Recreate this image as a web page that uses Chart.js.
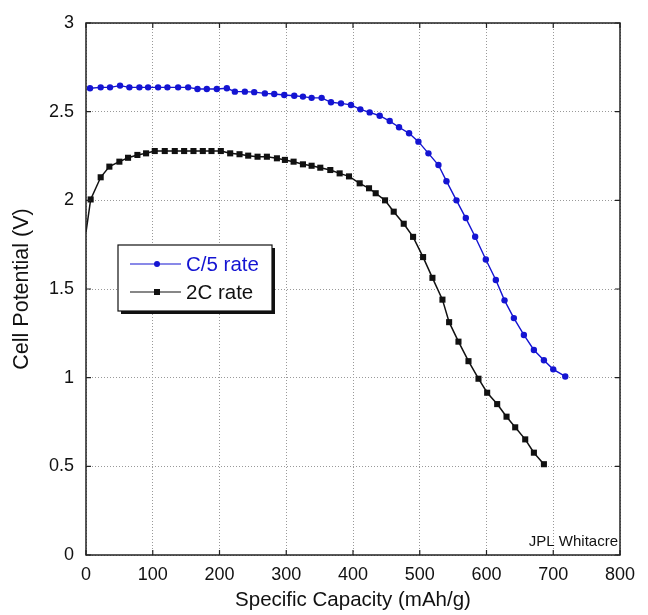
<!DOCTYPE html>
<html>
<head>
<meta charset="utf-8">
<script src="https://cdn.jsdelivr.net/npm/chart.js@4.4.0/dist/chart.umd.min.js"></script>
<style>
html,body{margin:0;padding:0;background:#fff;}
#wrap{width:648px;height:615px;position:relative;}
</style>
</head>
<body>
<div id="wrap"><canvas id="c" width="648" height="615"></canvas></div>
<script>
// Specific capacity (mAh/g) and cell potential (V)
const c5Capacity = [6,22,36,51,65,80,93,108,122,138,153,167,181,196,211,223,238,252,268,282,297,312,325,338,353,367,382,397,411,425,440,455,469,484,498,513,528,540,555,569,583,599,614,627,641,656,671,686,700,718];
const c5Voltage  = [2.632,2.637,2.637,2.647,2.637,2.637,2.637,2.637,2.637,2.637,2.637,2.628,2.628,2.628,2.632,2.613,2.613,2.61,2.603,2.60,2.594,2.59,2.585,2.578,2.578,2.553,2.547,2.538,2.513,2.496,2.477,2.447,2.412,2.378,2.331,2.265,2.199,2.108,2.0,1.9,1.795,1.666,1.551,1.436,1.336,1.241,1.156,1.098,1.047,1.007];
const c2Capacity = [0,7,22,35,50,63,77,90,103,118,133,147,161,175,188,202,216,230,243,257,271,286,298,311,325,338,351,366,380,394,410,424,434,448,461,476,490,505,519,534,544,558,573,588,601,616,630,643,658,671,686];
const c2Voltage  = [1.82,2.005,2.13,2.19,2.218,2.24,2.256,2.265,2.278,2.278,2.278,2.278,2.278,2.278,2.278,2.278,2.265,2.26,2.252,2.246,2.246,2.237,2.228,2.218,2.203,2.195,2.184,2.171,2.152,2.135,2.096,2.068,2.04,2.0,1.936,1.868,1.794,1.68,1.563,1.44,1.313,1.203,1.093,0.994,0.915,0.851,0.78,0.72,0.652,0.577,0.512];
const seriesLabels = ["C/5 rate","2C rate"];
const xTicks = [0,100,200,300,400,500,600,700,800];
const yTicks = [0,0.5,1,1.5,2,2.5,3];
const xTitle = "Specific Capacity (mAh/g)";
const yTitle = "Cell Potential (V)";
const credit = "JPL Whitacre";

const BLUE = "#1414d2";
const FONT = "'Liberation Sans', Arial, Helvetica, sans-serif";

const toPts = (xs, ys) => xs.map((x, i) => ({x: x, y: ys[i]}));

const framePlugin = {
  id: 'frame',
  afterDatasetsDraw(chart) {
    const {ctx, chartArea: a, scales: {x, y}} = chart;
    ctx.save();
    ctx.strokeStyle = '#222';
    ctx.lineWidth = 1.5;
    ctx.strokeRect(a.left, a.top, a.right - a.left, a.bottom - a.top);
    ctx.lineWidth = 1.2;
    const tl = 5;
    ctx.beginPath();
    xTicks.forEach(v => {
      const px = x.getPixelForValue(v);
      ctx.moveTo(px, a.bottom); ctx.lineTo(px, a.bottom - tl);
      ctx.moveTo(px, a.top); ctx.lineTo(px, a.top + tl);
    });
    yTicks.forEach(v => {
      const py = y.getPixelForValue(v);
      ctx.moveTo(a.left, py); ctx.lineTo(a.left + tl, py);
      ctx.moveTo(a.right, py); ctx.lineTo(a.right - tl, py);
    });
    ctx.stroke();

    // credit text
    ctx.font = "15px " + FONT;
    ctx.fillStyle = '#111';
    ctx.textAlign = 'right';
    ctx.textBaseline = 'middle';
    ctx.fillText(credit, a.right - 2, a.bottom - 13);

    // legend box
    const lx = 118, ly = 245, lw = 154, lh = 66;
    ctx.fillStyle = '#111';
    ctx.fillRect(lx + 3, ly + 3, lw, lh);
    ctx.fillStyle = '#fff';
    ctx.fillRect(lx, ly, lw, lh);
    ctx.strokeStyle = '#111';
    ctx.lineWidth = 1.2;
    ctx.strokeRect(lx, ly, lw, lh);
    const items = [
      {label: seriesLabels[0], color: BLUE, text: BLUE, style: 'circle', yy: ly + 19},
      {label: seriesLabels[1], color: '#111', text: '#111', style: 'rect', yy: ly + 47}
    ];
    items.forEach(it => {
      ctx.strokeStyle = it.color;
      ctx.lineWidth = 1.2;
      ctx.beginPath();
      ctx.moveTo(lx + 12, it.yy); ctx.lineTo(lx + 63, it.yy);
      ctx.stroke();
      ctx.fillStyle = it.color;
      if (it.style === 'circle') {
        ctx.beginPath(); ctx.arc(lx + 39, it.yy, 3, 0, Math.PI * 2); ctx.fill();
      } else {
        ctx.fillRect(lx + 36, it.yy - 3, 6, 6);
      }
      ctx.font = "20.5px " + FONT;
      ctx.fillStyle = it.text;
      ctx.textAlign = 'left';
      ctx.textBaseline = 'middle';
      ctx.fillText(it.label, lx + 68, it.yy + 1);
    });
    ctx.restore();
  }
};

new Chart(document.getElementById('c'), {
  type: 'scatter',
  data: {
    datasets: [
      {
        label: seriesLabels[0],
        data: toPts(c5Capacity, c5Voltage),
        showLine: true,
        borderColor: BLUE,
        backgroundColor: BLUE,
        borderWidth: 1.4,
        pointRadius: 3.2,
        pointStyle: 'circle',
        pointBorderWidth: 0,
        tension: 0
      },
      {
        label: seriesLabels[1],
        data: toPts(c2Capacity, c2Voltage),
        showLine: true,
        borderColor: '#111',
        backgroundColor: '#111',
        borderWidth: 1.5,
        pointRadius: ctx => ctx.dataIndex === 0 ? 0 : 4.3,
        pointStyle: 'rect',
        pointBorderWidth: 0,
        tension: 0
      }
    ]
  },
  options: {
    responsive: false,
    animation: false,
    devicePixelRatio: 1,
    layout: {padding: {left: 0, right: 28, top: 23, bottom: 0}},
    plugins: {legend: {display: false}, tooltip: {enabled: false}},
    scales: {
      x: {
        type: 'linear', min: 0, max: 800,
        afterFit: s => { s.height = 60; },
        afterBuildTicks: s => { s.ticks = xTicks.map(v => ({value: v})); },
        grid: {color: '#999', lineWidth: 1, drawTicks: false},
        border: {display: false, dash: [1, 2]},
        ticks: {color: '#111', font: {size: 18, family: FONT}, padding: 9, callback: v => String(v)},
        title: {display: true, text: xTitle, color: '#111', font: {size: 20.5, family: FONT}, padding: {top: 2, bottom: 2}}
      },
      y: {
        type: 'linear', min: 0, max: 3,
        afterFit: s => { s.width = 86; },
        afterBuildTicks: s => { s.ticks = yTicks.map(v => ({value: v})); },
        grid: {color: '#999', lineWidth: 1, drawTicks: false},
        border: {display: false, dash: [1, 2]},
        ticks: {color: '#111', font: {size: 18, family: FONT}, padding: 12, callback: v => String(v)},
        title: {display: true, text: yTitle, color: '#111', font: {size: 21.5, family: FONT}, padding: {top: 9, bottom: 0}}
      }
    }
  },
  plugins: [framePlugin]
});
</script>
</body>
</html>
